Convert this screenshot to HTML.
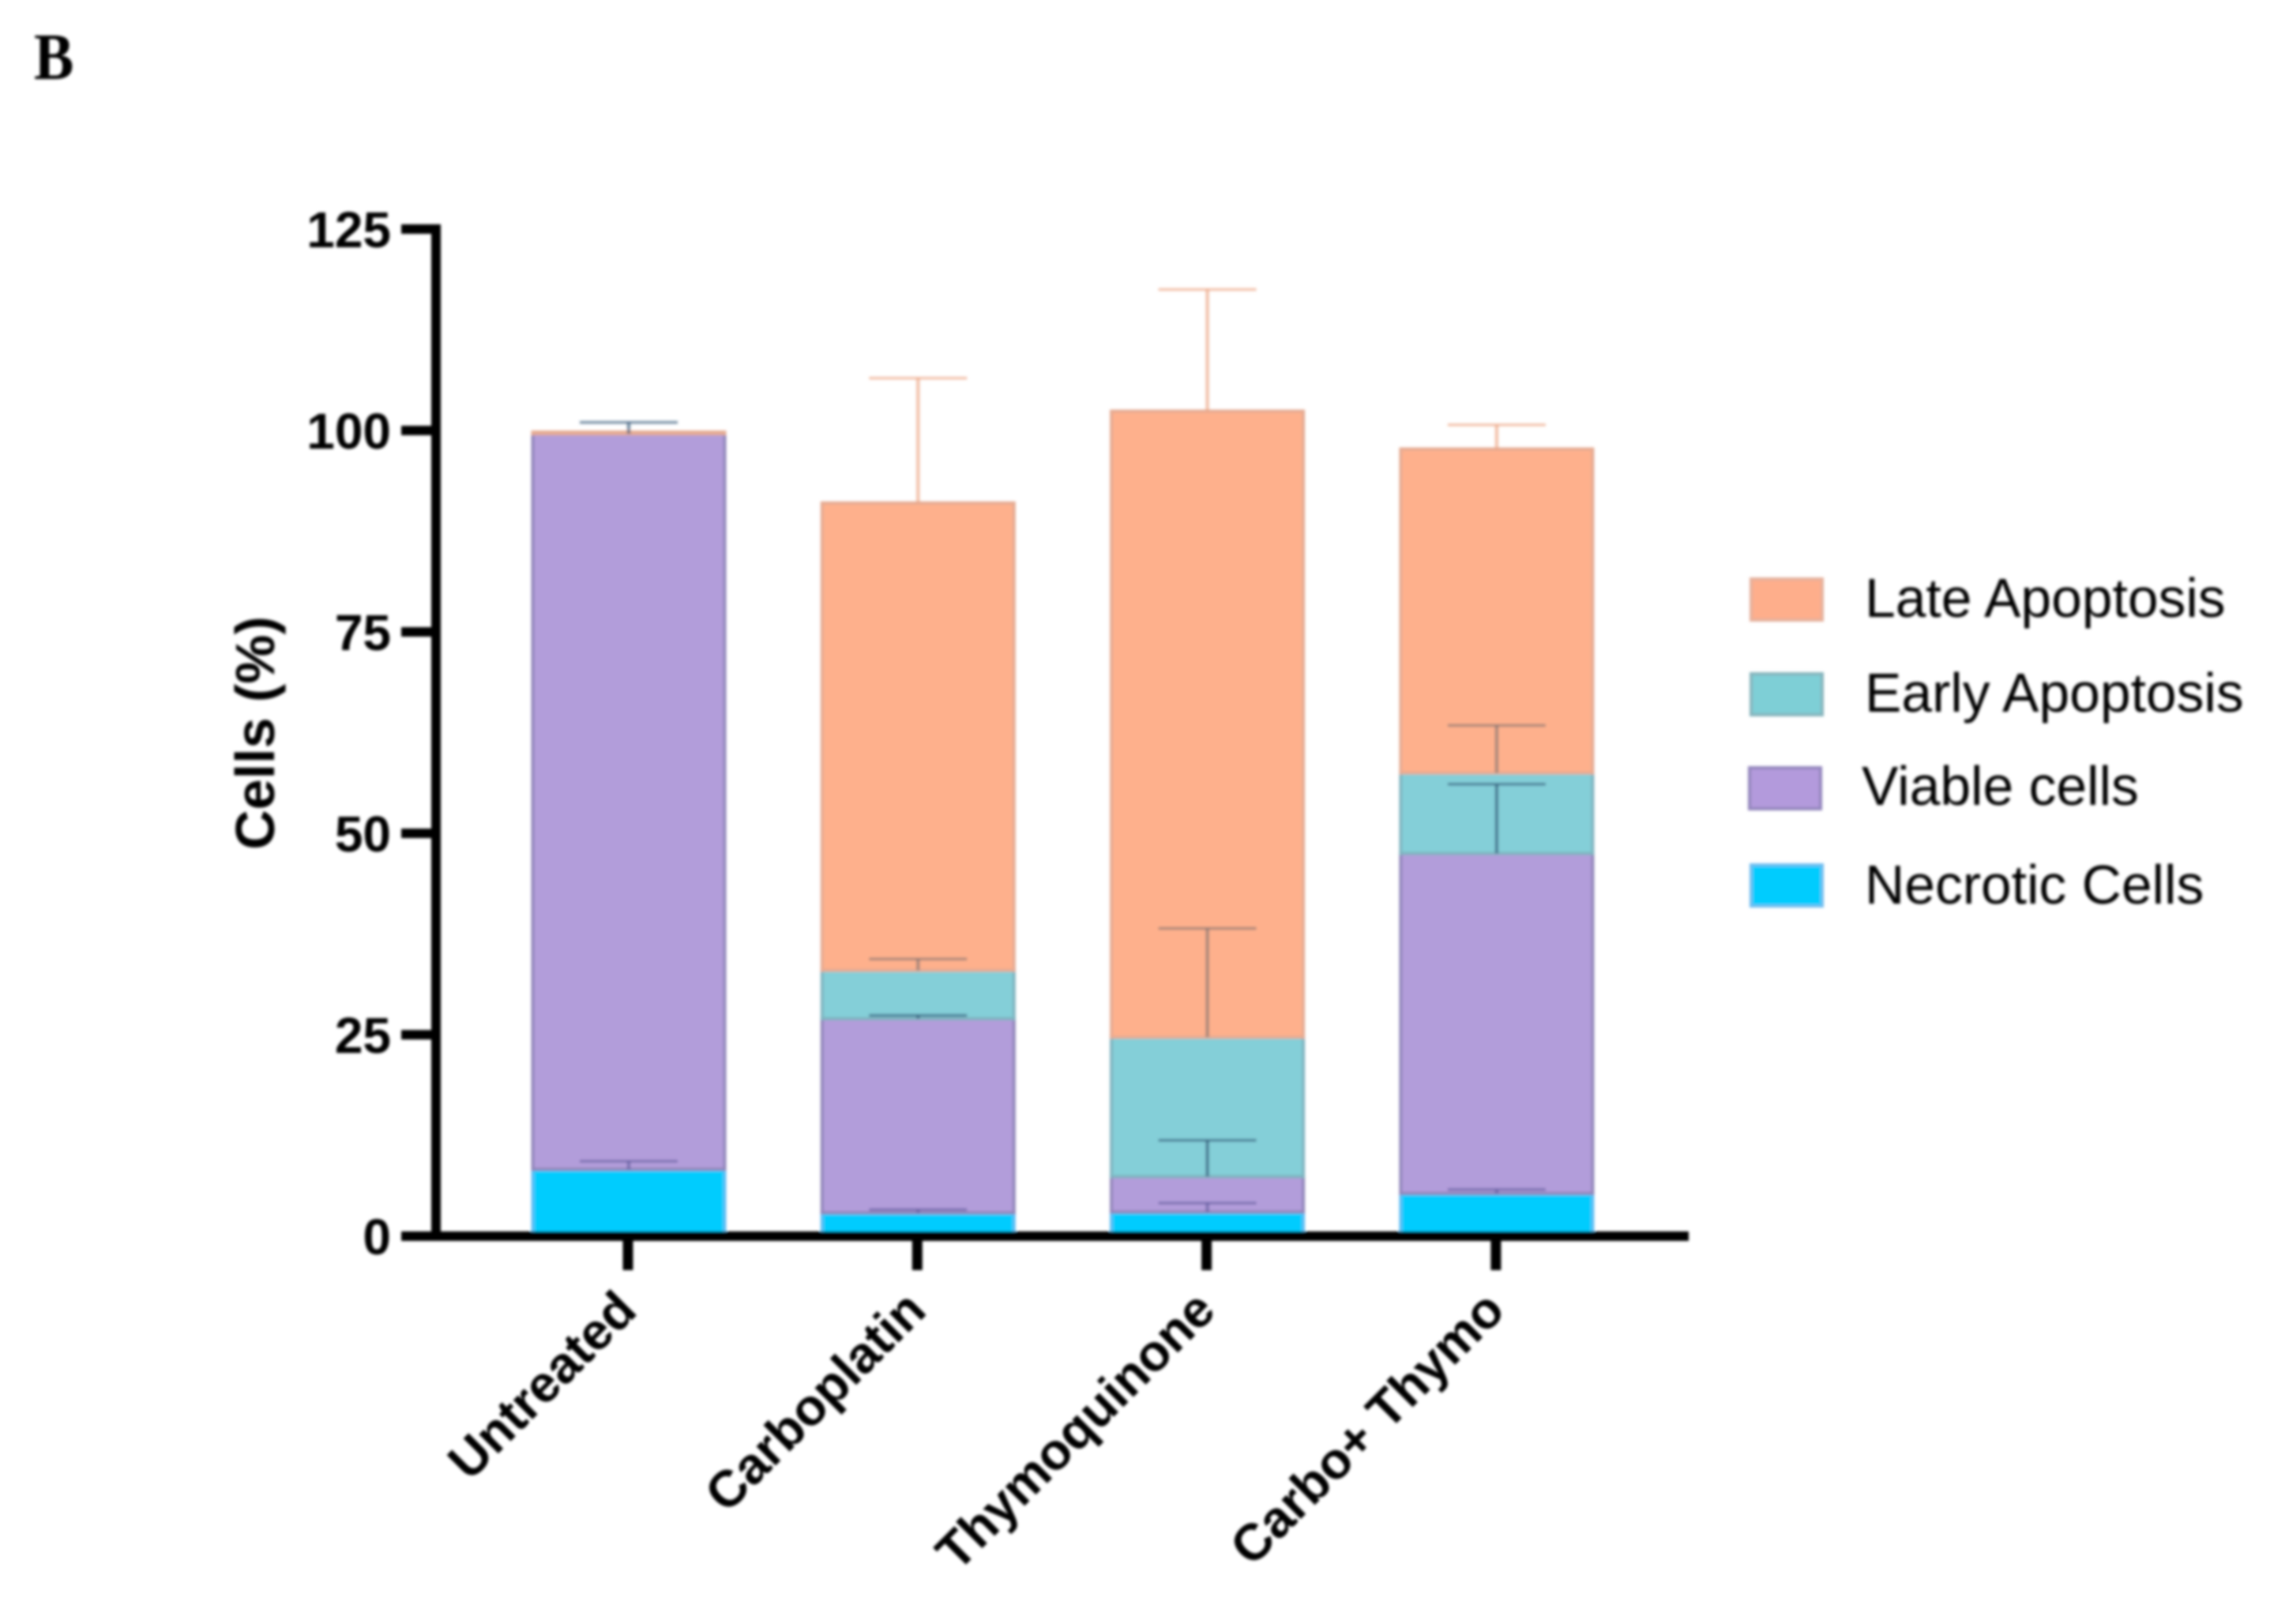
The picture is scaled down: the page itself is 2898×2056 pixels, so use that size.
<!DOCTYPE html>
<html lang="en">
<head>
<meta charset="utf-8">
<title>Cells (%) stacked bar chart</title>
<style>
html,body{margin:0;padding:0;background:#fff;width:2898px;height:2056px;overflow:hidden}
svg{display:block}
text{font-family:"Liberation Sans",Arial,sans-serif;fill:#000}
</style>
</head>
<body>
<svg id="chart" xmlns="http://www.w3.org/2000/svg" width="2898" height="2056" viewBox="0 0 2898 2056">
<defs><filter id="soft" x="-5%" y="-5%" width="110%" height="110%"><feGaussianBlur stdDeviation="1.8"/></filter></defs>
<rect x="0" y="0" width="2898" height="2056" fill="#fff"/>
<g id="root" filter="url(#soft)">
<text transform="translate(43 100) scale(0.9 1)" style="font-family:'Liberation Serif',serif;font-weight:bold;font-size:84px">B</text>
<text transform="translate(347 928) rotate(-90)" text-anchor="middle" style="font-weight:bold;font-size:70px">Cells (%)</text>
</g>
</svg>
<script>
const categories = ['Untreated', 'Carboplatin', 'Thymoquinone', 'Carbo+ Thymo'];
const yTickValues = [0, 25, 50, 75, 100, 125];
const necrotic = [8.3, 2.9, 3.0, 5.3];
const viable = [91.3, 24.1, 4.4, 42.2];
const early = [0.0, 6.0, 17.3, 10.0];
const late = [0.2, 58.0, 77.7, 40.2];
const necroticErr = [1.0, 0.4, 1.1, 0.5];
const viableErr = [1.4, 0.4, 4.5, 8.6];
const earlyErr = [0, 1.4, 13.5, 5.9];
const lateErr = [0, 15.5, 15.1, 3.0];
const legendLabels = ['Late Apoptosis', 'Early Apoptosis', 'Viable cells', 'Necrotic Cells'];

const NS = 'http://www.w3.org/2000/svg';
const root = document.getElementById('root');
const Y0 = 1565, PX_PER_UNIT = 10.2;
const X0 = 796, X_STEP = 366.3, BAR_W = 243, CAP_W = 124;
const AXIS = 552;
function y(v) { return Y0 - v * PX_PER_UNIT; }
function x(i) { return X0 + i * X_STEP; }
function make(tag, attrs) {
  const el = document.createElementNS(NS, tag);
  for (const k in attrs) el.setAttribute(k, attrs[k]);
  root.appendChild(el);
  return el;
}

const stackSeries = [
  { key: 'necrotic', values: necrotic, errs: necroticErr, fill: '#06CCFE', edge: '#5CBDF4', err: 'rgba(85,80,150,0.55)' },
  { key: 'viable', values: viable, errs: viableErr, fill: '#B29DDA', edge: '#9186BA', err: 'rgba(45,80,115,0.62)' },
  { key: 'early', values: early, errs: earlyErr, fill: '#84CFD8', edge: '#7FB4C0', err: 'rgba(105,105,110,0.55)' },
  { key: 'late', values: late, errs: lateErr, fill: '#FEB08C', edge: '#E5AB93', err: 'rgba(235,160,125,0.62)' }
];

// stacked bars
categories.forEach(function (cat, i) {
  let base = 0;
  stackSeries.forEach(function (s) {
    const v = s.values[i];
    if (v > 0) {
      const r = make('rect', {
        x: x(i) - BAR_W / 2,
        y: y(base + v),
        width: BAR_W,
        height: v * PX_PER_UNIT,
        fill: s.fill,
        stroke: s.edge,
        'stroke-width': 4
      });
      
      
    }
    base += v;
  });
});

// error bars
categories.forEach(function (cat, i) {
  let base = 0;
  stackSeries.forEach(function (s) {
    base += s.values[i];
    const e = s.errs[i];
    if (e > 0) {
      const stem = make('line', { x1: x(i), x2: x(i), y1: y(base), y2: y(base + e), stroke: s.err, 'stroke-width': 4.5 });
      
      
      const cap = make('line', { x1: x(i) - CAP_W / 2, x2: x(i) + CAP_W / 2, y1: y(base + e), y2: y(base + e), stroke: s.err, 'stroke-width': 3.5 });
      
      
    }
  });
});

// y axis
const yAxisLine = make('line', { x1: AXIS, x2: AXIS, y1: y(125) - 6, y2: Y0 + 6, stroke: '#000', 'stroke-width': 12 });


yTickValues.forEach(function (t) {
  const tick = make('line', { x1: 508, x2: AXIS, y1: y(t), y2: y(t), stroke: '#000', 'stroke-width': 12 });
  
  
  const label = make('text', { x: 495, y: y(t) + 23, 'text-anchor': 'end', 'font-size': 64, 'font-weight': 'bold' });
  label.textContent = String(t);
  
  
});

// x axis
const xAxisLine = make('line', { x1: AXIS - 6, x2: 2138, y1: Y0, y2: Y0, stroke: '#000', 'stroke-width': 12 });


categories.forEach(function (cat, i) {
  const tick = make('line', { x1: x(i) - 1, x2: x(i) - 1, y1: Y0, y2: 1608, stroke: '#000', 'stroke-width': 13 });
  
  
  const label = make('text', {
    'text-anchor': 'end',
    'font-size': 65,
    'font-weight': 'bold',
    transform: 'translate(' + (x(i) + 13) + ' 1662) rotate(-45)'
  });
  label.textContent = cat;
  
  
});

// legend
const legendColors = ['#FEAE8B', '#7ECFD6', '#B39ADC', '#06CCFE'];
const legendEdges = ['#E5B09C', '#86B4BC', '#9386BC', '#6FBDF0'];
const legendBoxX = [2229, 2229, 2227, 2229];
const legendBoxY = [733, 853, 972, 1095];
const legendTextX = [2361, 2361, 2357, 2361];
const legendBaseline = [781, 901, 1019, 1144];
legendLabels.forEach(function (name, i) {
  const sw = make('rect', { x: legendBoxX[i] - 12, y: legendBoxY[i], width: 90, height: 52, fill: legendColors[i], stroke: legendEdges[i], 'stroke-width': 4 });
  
  
  const t = make('text', { x: legendTextX[i], y: legendBaseline[i], 'font-size': 69.6 });
  t.textContent = name;
  
  
});
</script>
</body>
</html>
